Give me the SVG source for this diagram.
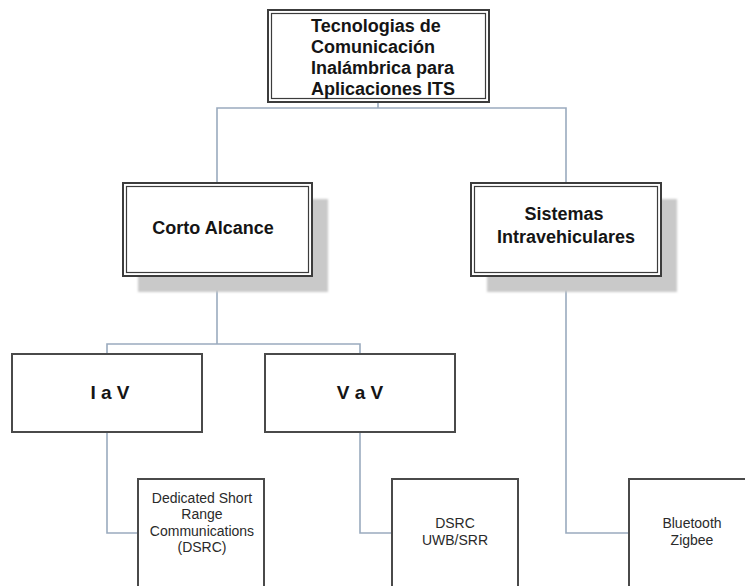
<svg xmlns="http://www.w3.org/2000/svg" width="745" height="586" viewBox="0 0 745 586">
  <style>
    .bg { fill: #ffffff; }
    .conn { fill: none; stroke: #9aabbe; stroke-width: 1.6; }
    .outer { fill: #ffffff; stroke: #3c3c3c; stroke-width: 2; }
    .inner { fill: none; stroke: #3c3c3c; stroke-width: 1.2; }
    .shadow { fill: #c9c9c9; }
    .box { fill: #ffffff; stroke: #4a4a4a; stroke-width: 2; }
    .bold { font-family: "Liberation Sans", Arial, sans-serif; font-weight: bold; font-size: 18px; fill: #151515; }
    .mid { font-family: "Liberation Sans", Arial, sans-serif; font-weight: bold; font-size: 19px; fill: #151515; text-anchor: middle; }
    .small { font-family: "Liberation Sans", Arial, sans-serif; font-size: 14px; fill: #2a2a2a; text-anchor: middle; }
  </style>
  <defs>
    <filter id="soft" x="-5%" y="-5%" width="110%" height="110%">
      <feGaussianBlur stdDeviation="0.8"/>
    </filter>
  </defs>
  <rect class="bg" x="0" y="0" width="745" height="586"/>

  <!-- connectors -->
  <g id="connectors">
    <polyline class="conn" points="378,103 378,108"/>
    <polyline class="conn" points="217,183 217,108 566,108 566,183"/>
    <polyline class="conn" points="217,276 217,344"/>
    <polyline class="conn" points="107,354 107,344 360,344 360,354"/>
    <polyline class="conn" points="107,432 107,533 138,533"/>
    <polyline class="conn" points="360,432 360,533 392,533"/>
    <polyline class="conn" points="566,276 566,533 629,533"/>
  </g>

  <!-- root -->
  <g id="root">
    <rect class="outer" x="268" y="10" width="221" height="92"/>
    <rect class="inner" x="271.5" y="13.5" width="214" height="85"/>
    <text class="bold" x="311" y="32">Tecnologias de</text>
    <text class="bold" x="311" y="53">Comunicación</text>
    <text class="bold" x="311" y="74">Inalámbrica para</text>
    <text class="bold" x="311" y="95">Aplicaciones ITS</text>
  </g>

  <!-- short range -->
  <g id="corto-alcance">
    <rect class="shadow" x="138" y="199" width="190" height="93" filter="url(#soft)"/>
    <rect class="outer" x="123" y="183" width="189" height="93"/>
    <rect class="inner" x="126.5" y="186.5" width="182" height="86"/>
    <text class="bold" x="213" y="234" text-anchor="middle">Corto Alcance</text>
  </g>

  <!-- in-vehicle systems -->
  <g id="sistemas">
    <rect class="shadow" x="487" y="199" width="190" height="93" filter="url(#soft)"/>
    <rect class="outer" x="471" y="183" width="190" height="93"/>
    <rect class="inner" x="474.5" y="186.5" width="183" height="86"/>
    <text class="bold" x="564" y="220" text-anchor="middle">Sistemas</text>
    <text class="bold" x="566" y="243" text-anchor="middle">Intravehiculares</text>
  </g>

  <!-- infrastructure to vehicle -->
  <g id="i-a-v">
    <rect class="box" x="12" y="354" width="190" height="78"/>
    <text class="mid" x="110" y="399">I a V</text>
  </g>

  <!-- vehicle to vehicle -->
  <g id="v-a-v">
    <rect class="box" x="265" y="354" width="190" height="78"/>
    <text class="mid" x="360" y="399">V a V</text>
  </g>

  <!-- DSRC -->
  <g id="dsrc">
    <rect class="box" x="138" y="479" width="126" height="130"/>
    <text class="small" x="202" y="503">Dedicated Short</text>
    <text class="small" x="202" y="519">Range</text>
    <text class="small" x="202" y="536">Communications</text>
    <text class="small" x="202" y="552">(DSRC)</text>
  </g>

  <!-- V2V technologies -->
  <g id="dsrc-uwb">
    <rect class="box" x="392" y="479" width="126" height="130"/>
    <text class="small" x="455" y="528">DSRC</text>
    <text class="small" x="455" y="545">UWB/SRR</text>
  </g>

  <!-- in-vehicle technologies -->
  <g id="bluetooth">
    <rect class="box" x="629" y="479" width="126" height="130"/>
    <text class="small" x="692" y="528">Bluetooth</text>
    <text class="small" x="692" y="545">Zigbee</text>
  </g>
</svg>
